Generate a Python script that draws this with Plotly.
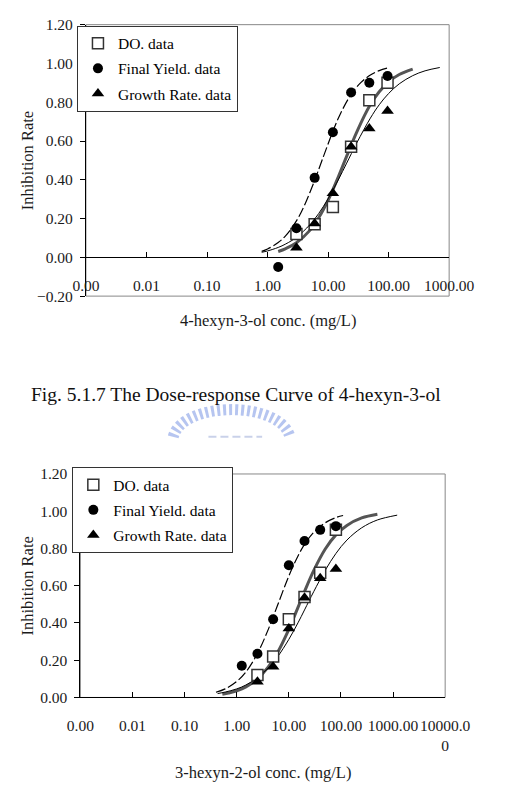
import plotly.graph_objects as go

W, H = 526, 806
FONT = "Liberation Serif"

# ---------------- Chart 1: 4-hexyn-3-ol ----------------
do1_conc = [3, 6, 12, 24, 48, 96]
do1_rate = [0.12, 0.17, 0.26, 0.57, 0.81, 0.90]
fy1_conc = [1.5, 3, 6, 12, 24, 48, 96]
fy1_rate = [-0.05, 0.15, 0.41, 0.645, 0.85, 0.90, 0.935]
gr1_conc = [3, 6, 12, 24, 48, 96]
gr1_rate = [0.05, 0.175, 0.33, 0.57, 0.665, 0.755]

# fitted curves
fy1_fit_x = [0.8, 1, 1.5, 2, 3, 4, 6, 8, 12, 16, 24, 35, 50, 70, 100]
fy1_fit_y = [0.031, 0.043, 0.076, 0.112, 0.188, 0.263, 0.397, 0.503, 0.650,
             0.741, 0.840, 0.902, 0.940, 0.963, 0.978]
do1_fit_x = [1.5, 2, 3, 5, 7, 10, 15, 20, 30, 50, 70, 100, 150, 250]
do1_fit_y = [0.030, 0.045, 0.075, 0.139, 0.204, 0.294, 0.420, 0.517, 0.649,
             0.788, 0.854, 0.905, 0.943, 0.971]
gr1_fit_x = [0.8, 1, 1.5, 2, 3, 5, 7, 10, 15, 20, 30, 50, 70, 100, 150, 250, 400, 700]
gr1_fit_y = [0.026, 0.033, 0.051, 0.069, 0.103, 0.168, 0.226, 0.302, 0.404,
             0.482, 0.592, 0.718, 0.787, 0.845, 0.895, 0.937, 0.962, 0.979]

# ---------------- Chart 2: 3-hexyn-2-ol ----------------
do2_conc = [2.5, 5, 10, 20, 40, 80]
do2_rate = [0.12, 0.22, 0.42, 0.54, 0.67, 0.90]
fy2_conc = [1.25, 2.5, 5, 10, 20, 40, 80]
fy2_rate = [0.17, 0.235, 0.42, 0.71, 0.84, 0.90, 0.92]
gr2_conc = [2.5, 5, 10, 20, 40, 80]
gr2_rate = [0.085, 0.165, 0.37, 0.535, 0.64, 0.69]

fy2_fit_x = [0.4, 0.6, 1, 1.5, 2.5, 4, 6, 10, 15, 20, 30, 50, 80, 110]
fy2_fit_y = [0.028, 0.046, 0.086, 0.137, 0.236, 0.363, 0.491, 0.652, 0.760,
             0.822, 0.887, 0.938, 0.966, 0.977]
do2_fit_x = [0.53, 0.7, 1, 1.5, 2.5, 4, 6, 10, 15, 20, 30, 50, 80, 130, 250, 500]
do2_fit_y = [0.017, 0.024, 0.036, 0.057, 0.100, 0.163, 0.239, 0.366, 0.484,
             0.569, 0.681, 0.797, 0.873, 0.924, 0.964, 0.984]
gr2_fit_x = [0.43, 0.6, 1, 1.5, 2.5, 4, 6, 10, 15, 20, 30, 50, 80, 130, 250, 500, 1200]
gr2_fit_y = [0.021, 0.029, 0.046, 0.067, 0.106, 0.157, 0.216, 0.312, 0.401,
             0.470, 0.568, 0.683, 0.773, 0.845, 0.911, 0.953, 0.979]

x_tickvals1 = [0.001, 0.01, 0.1, 1, 10, 100, 1000]
x_ticktext1 = ["0.00", "0.01", "0.10", "1.00", "10.00", "100.00", "1000.00"]
x_tickvals2 = [0.001, 0.01, 0.1, 1, 10, 100, 1000, 10000]
x_ticktext2 = ["0.00", "0.01", "0.10", "1.00", "10.00", "100.00", "1000.00", "10000.0<br>0"]

legend_names = ["DO. data", "Final Yield. data", "Growth Rate. data"]


def pxx(x):
    return x / W


def pxy(y):
    return 1 - y / H


# plot-area boxes (pixels)
C1 = dict(l=77.7, r=470, t=16, b=293.3)
C2 = dict(l=71.7, r=465.7, t=475, b=703.3)

fig = go.Figure()

curve_styles = [
    dict(color="black", width=1.2, dash="10px,3px"),  # final yield fit
    dict(color="#555555", width=3),                    # DO fit
    dict(color="black", width=1),                      # growth rate fit
]


def add_chart(xa, ya, leg, fits, pts):
    for (fx, fy), st in zip(fits, curve_styles):
        fig.add_trace(go.Scatter(x=fx, y=fy, mode="lines", line=dict(shape="spline", **st),
                                 xaxis=xa, yaxis=ya, showlegend=False, hoverinfo="skip"))
    (dx, dy), (cx, cy), (tx, ty) = pts
    fig.add_trace(go.Scatter(x=dx, y=dy, mode="markers", name=legend_names[0],
                             marker=dict(symbol="square", size=11, color="white",
                                         line=dict(color="#333333", width=1.5)),
                             xaxis=xa, yaxis=ya, legend=leg, legendgroup=leg + "a"))
    fig.add_trace(go.Scatter(x=cx, y=cy, mode="markers", name=legend_names[1],
                             marker=dict(symbol="circle", size=10, color="black"),
                             xaxis=xa, yaxis=ya, legend=leg, legendgroup=leg + "b"))
    fig.add_trace(go.Scatter(x=tx, y=ty, mode="markers", name=legend_names[2],
                             marker=dict(symbol="triangle-up", size=11, color="black"),
                             xaxis=xa, yaxis=ya, legend=leg, legendgroup=leg + "c"))


add_chart("x", "y", "legend",
          [(fy1_fit_x, fy1_fit_y), (do1_fit_x, do1_fit_y), (gr1_fit_x, gr1_fit_y)],
          [(do1_conc, do1_rate), (fy1_conc, fy1_rate), (gr1_conc, gr1_rate)])
add_chart("x2", "y2", "legend2",
          [(fy2_fit_x, fy2_fit_y), (do2_fit_x, do2_fit_y), (gr2_fit_x, gr2_fit_y)],
          [(do2_conc, do2_rate), (fy2_conc, fy2_rate), (gr2_conc, gr2_rate)])

tickfont = dict(family=FONT, size=15.5, color="#1a1a1a")

y1dom = [pxy(C1["b"]), pxy(C1["t"])]
y2dom = [pxy(C2["b"]), pxy(C2["t"])]
zero1 = y1dom[0] + (y1dom[1] - y1dom[0]) * (0.2 / 1.4)

xcommon = dict(type="log", showgrid=False, zeroline=False, showline=True, linecolor="black",
               linewidth=1, ticks="inside", ticklen=5, tickcolor="black", tickangle=0,
               tickfont=tickfont, ticklabelstandoff=14, fixedrange=True)
ycommon = dict(showgrid=False, zeroline=False, showline=True, linecolor="black", linewidth=1,
               ticks="outside", ticklen=5, tickcolor="black", tickfont=tickfont,
               tickformat=".2f", dtick=0.2, tick0=0, ticklabelstandoff=4)

legfont = dict(family=FONT, size=15.5, color="black")
fig.update_layout(
    width=W, height=H, margin=dict(l=0, r=0, t=0, b=0),
    paper_bgcolor="white", plot_bgcolor="white",
    font=dict(family=FONT, color="black"),
    xaxis=dict(domain=[pxx(C1["l"]), pxx(C1["r"])], range=[-3, 3],
               tickvals=x_tickvals1, ticktext=x_ticktext1,
               anchor="free", position=zero1, **xcommon),
    yaxis=dict(domain=y1dom, range=[-0.2, 1.2], anchor="x", **ycommon),
    xaxis2=dict(domain=[pxx(C2["l"]), pxx(C2["r"])], range=[-3, 4],
                tickvals=x_tickvals2, ticktext=x_ticktext2,
                anchor="y2", **xcommon),
    yaxis2=dict(domain=y2dom, range=[0, 1.2], anchor="x2", **ycommon),
    legend=dict(x=pxx(68), y=pxy(17), xanchor="left", yanchor="top",
                bgcolor="white", bordercolor="#333333", borderwidth=1,
                font=legfont, tracegroupgap=2),
    legend2=dict(x=pxx(63), y=pxy(468), xanchor="left", yanchor="top",
                 bgcolor="white", bordercolor="#333333", borderwidth=1,
                 font=legfont, tracegroupgap=2),
)

# plot-area frames
for xr, yr in (("x domain", "y domain"), ("x2 domain", "y2 domain")):
    fig.add_shape(type="rect", xref=xr, yref=yr, x0=0, x1=1, y0=0, y1=1,
                  line=dict(color="#888888", width=1), layer="below")

# faint watermark emblem under the caption
def P(x, y):
    return f"{pxx(x):.5f},{pxy(y):.5f}"

arch = f"M {P(172, 437)} C {P(182, 400)} {P(288, 400)} {P(298, 437)}"
fig.add_shape(type="path", path=arch, xref="paper", yref="paper",
              line=dict(color="rgba(110,140,225,0.5)", width=11, dash="3px,3px"))
fig.add_shape(type="line", xref="paper", yref="paper",
              x0=pxx(210), x1=pxx(268), y0=pxy(437), y1=pxy(437),
              line=dict(color="rgba(120,140,200,0.4)", width=2, dash="8px,4px"))

titlefont = dict(family=FONT, size=16.5, color="#1a1a1a")
ann = [
    dict(text="Inhibition Rate", x=pxx(15), y=pxy((C1["t"] + C1["b"]) / 2), textangle=-90,
         font=titlefont),
    dict(text="4-hexyn-3-ol conc. (mg/L)", x=pxx((C1["l"] + C1["r"]) / 2), y=pxy(318),
         font=titlefont),
    dict(text="Fig. 5.1.7 The Dose-response Curve of 4-hexyn-3-ol", x=pxx(240), y=pxy(394),
         font=dict(family=FONT, size=19.5, color="#111111")),
    dict(text="Inhibition Rate", x=pxx(15), y=pxy((C2["t"] + C2["b"]) / 2), textangle=-90,
         font=titlefont),
    dict(text="3-hexyn-2-ol conc. (mg/L)", x=pxx((C2["l"] + C2["r"]) / 2), y=pxy(780),
         font=titlefont),
]
for a in ann:
    fig.add_annotation(xref="paper", yref="paper", xanchor="center", yanchor="middle",
                       showarrow=False, **a)

fig.write_html("out.html")
